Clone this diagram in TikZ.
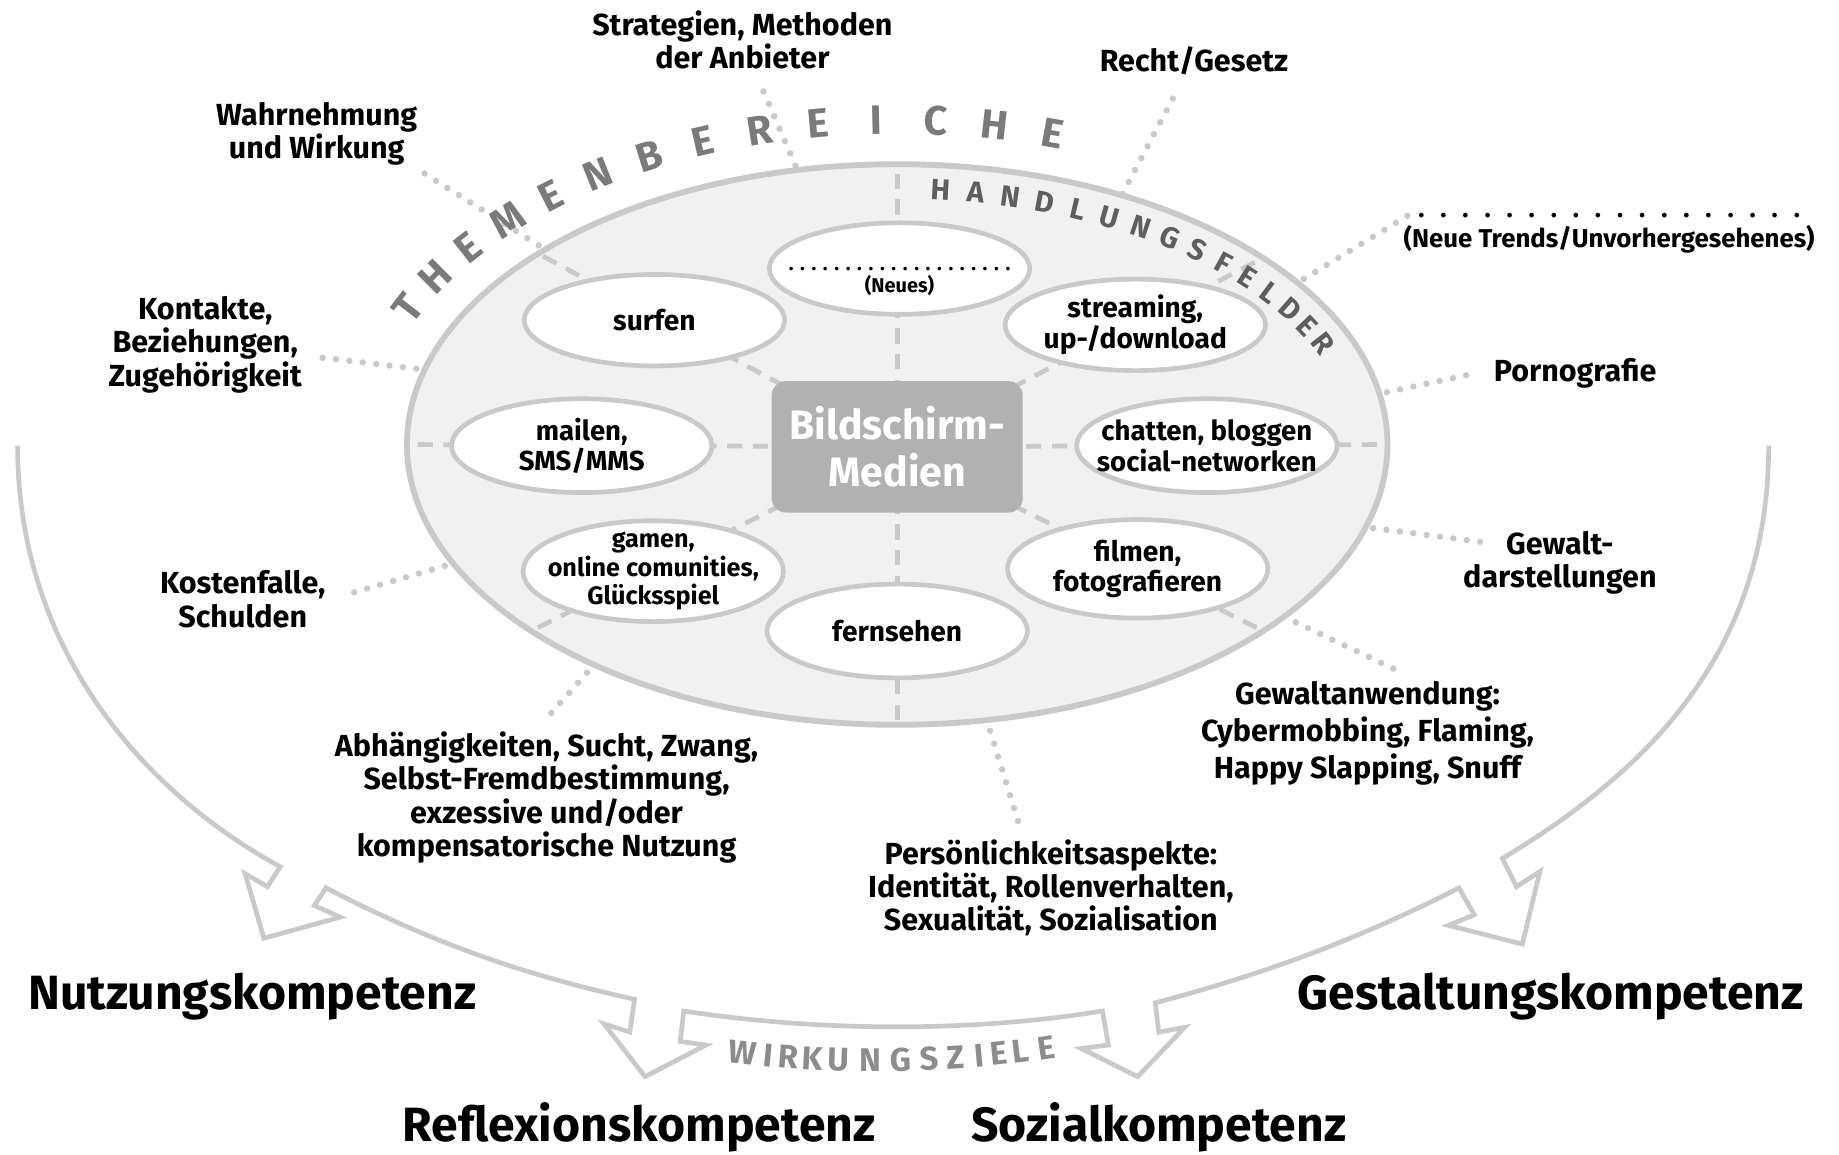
\documentclass[tikz,border=0pt]{standalone}
\usepackage{fontspec}
\setmainfont{Fira Sans}
\usepackage{tikz}
\usetikzlibrary{shapes.geometric}

\definecolor{rimgray}{HTML}{C9C9CA}
\definecolor{ringfill}{HTML}{F1F1F1}
\definecolor{boxgray}{HTML}{B1B1B2}
\definecolor{themegray}{HTML}{7A7A7A}
\definecolor{fieldgray}{HTML}{5E5E5E}
\definecolor{goalgray}{HTML}{8C8C8C}

\begin{document}
\begin{tikzpicture}[x = 1pt, y = -1pt,
		topic/.style = {align = center, inner sep = 0pt, font = \fontsize{26}{28.5}\selectfont\bfseries},
		goal/.style = {anchor = base, inner sep = 0pt, font = \fontsize{41}{44}\selectfont\bfseries},
		field/.style = {ellipse, draw = rimgray, fill = white, line width = 4pt, minimum width = 222pt, minimum height = 78pt, inner sep = 0pt},
		fieldtext/.style = {align = center, inner sep = 0pt, font = \fontsize{24}{26}\selectfont\bfseries},
		spoke/.style = {draw = rimgray, line width = 4pt, dash pattern = on 13pt off 9pt},
		dotline/.style = {draw = rimgray, line width = 5.5pt, line cap = round, dash pattern = on 0pt off 11.5pt},
		band/.style = {draw = rimgray, line width = 4pt, line join = miter},
		themeletter/.style = {inner sep = 0pt, text = themegray, font = \fontsize{35}{35}\selectfont\bfseries},
		fieldletter/.style = {inner sep = 0pt, text = fieldgray, font = \fontsize{25}{25}\selectfont\bfseries},
		goalletter/.style = {inner sep = 0pt, text = goalgray, font = \fontsize{28}{28}\selectfont\bfseries}]
			\def\cx{765};
			\def\cy{379};

			\useasboundingbox (0,0) rectangle (1568,984);

			\begin{scope}
				\draw [band] (15,380) .. controls (15,560) and (130,680) .. (239,739)
					-- (228,756) -- (209,745) -- (225,800) -- (290,782) -- (268,772) -- (278,757)
					.. controls (370,805) and (450,832) .. (541,852)
					-- (537,880) -- (515,873) -- (550,918) -- (602,891) -- (580,888) -- (583,862)
					.. controls (700,880) and (830,880) .. (940,862)
					-- (945,891) -- (922,894) -- (970,918) -- (1010,876) -- (988,880) -- (985,855)
					.. controls (1080,830) and (1160,800) .. (1244,757)
					-- (1257,780) -- (1235,789) -- (1298,805) -- (1313,743) -- (1293,756) -- (1281,732)
					.. controls (1400,660) and (1508,560) .. (1508,380);
			\end{scope}

			\begin{scope}
				\node [ellipse, draw = rimgray, fill = ringfill, line width = 5pt, minimum width = 836pt, minimum height = 478pt, inner sep = 0pt, outer sep = 0pt] (rim) at (\cx,\cy) {};
				\coordinate (hub) at (\cx,381);
				\foreach \a in {0, 27.1, 90, 152.4, 180, 207, 270, 333.1}
					\draw [spoke] (hub) -- (rim.\a);
			\end{scope}

			\begin{scope}
				\coordinate (strategien-end) at (651,78);
				\coordinate (recht-end) at (1000,84);
				\coordinate (wahrnehmung-end) at (362,148);
				\coordinate (kontakte-end) at (275,305);
				\coordinate (kosten-end) at (302,505);
				\coordinate (abhaengig-end) at (470,608);
				\coordinate (person-end) at (868,700);
				\coordinate (gewalt-end) at (1188,570);
				\coordinate (darstellung-end) at (1262,462);
				\coordinate (porno-end) at (1250,320);
				\coordinate (trends-end) at (1200,184);
				\foreach \p/\a in {strategien-end/110.9, recht-end/48.8, wahrnehmung-end/151.7, kontakte-end/171.9, kosten-end/195.4, abhaengig-end/216.3, person-end/288, gewalt-end/336.6, darstellung-end/350.5, porno-end/6.8, trends-end/22}
					\draw [dotline] (\p) -- (rim.\a);
			\end{scope}

			\begin{scope}
				\foreach \n/\x/\y/\h in {neues/767/229/78, surfen/558/273/78, streaming/968/277/78, mailen/496/380/80, chatten/1029/380/80, gamen/557/487/86, filmen/970/485/84, fernsehen/765/538/80}
					\node [field, minimum height = \h pt] (\n) at (\x,\y) {};

				\node [fieldtext, font = \fontsize{17}{19}\selectfont\bfseries] (neues-text) at (767,240) {\makebox[195pt]{\xleaders\hbox to 9.3pt{\hss.\hss}\hfill}\\(Neues)};
				\node [fieldtext] (surfen-text) at (surfen) {surfen};
				\node [fieldtext] (streaming-text) at (streaming) {streaming,\\up-/download};
				\node [fieldtext, font = \fontsize{23.5}{26}\selectfont\bfseries] (mailen-text) at (mailen) {mailen,\\SMS/MMS};
				\node [fieldtext, font = \fontsize{23.5}{26}\selectfont\bfseries] (chatten-text) at (chatten) {chatten, bloggen\\social-networken};
				\node [fieldtext, font = \fontsize{21.5}{24.5}\selectfont\bfseries] (gamen-text) at (gamen) {gamen,\\online comunities,\\Glücksspiel};
				\node [fieldtext] (filmen-text) at (filmen) {filmen,\\fotografieren};
				\node [fieldtext] (fernsehen-text) at (fernsehen) {fernsehen};

				\node [rectangle, rounded corners = 12pt, fill = boxgray, minimum width = 214pt, minimum height = 112pt, inner sep = 0pt, align = center, text = white, font = \fontsize{35}{40}\selectfont\bfseries] (media) at (\cx,381) {Bildschirm-\\Medien};
			\end{scope}

			\begin{scope}
				\foreach \ch [count = \idx from 0] in {T,H,E,M,E,N,B,E,R,E,I,C,H,E} {
					\pgfmathsetmacro{\ang}{155.2 - 6.3*\idx}
					\pgfmathsetmacro{\rot}{atan2(-277*cos(\ang), 460*sin(\ang))}
					\node [themeletter, rotate = \rot] (theme-\idx) at ({\cx + 460*cos(\ang)}, {\cy - 277*sin(\ang)}) {\ch};
				}
				\foreach \ch [count = \idx from 0] in {H,A,N,D,L,U,N,G,S,F,E,L,D,E,R} {
					\pgfmathsetmacro{\ang}{84.6 - 4.38*\idx}
					\pgfmathsetmacro{\rot}{atan2(-218*cos(\ang), 395*sin(\ang))}
					\node [fieldletter, rotate = \rot] (field-\idx) at ({\cx + 395*cos(\ang)}, {\cy - 218*sin(\ang)}) {\ch};
				}
				\foreach \ch/\x [count = \idx] in {W/633, I/655, R/672, K/693, U/715, N/742, G/768, S/792, Z/815, I/835, E/852, L/870, E/892} {
					\pgfmathsetmacro{\rot}{atan((\x - 745)/1000)}
					\pgfmathsetmacro{\yy}{904 - 5*((\x - 745)/100)*((\x - 745)/100)}
					\node [goalletter, rotate = \rot] (goal-\idx) at (\x, \yy) {\ch};
				}
			\end{scope}

			\begin{scope}
				\node [topic] (strategien) at (633,34) {Strategien, Methoden\\der Anbieter};
				\node [topic] (recht) at (1018,52) {Recht/Gesetz};
				\node [topic] (wahrnehmung) at (270,114) {Wahrnehmung\\und Wirkung};
				\node [topic] (kontakte) at (175,294) {Kontakte,\\Beziehungen,\\Zugehörigkeit};
				\node [topic] (kosten) at (207,511) {Kostenfalle,\\Schulden};
				\node [topic] (abhaengig) at (466,680) {Abhängigkeiten, Sucht, Zwang,\\Selbst-Fremdbestimmung,\\exzessive und/oder\\kompensatorische Nutzung};
				\node [topic] (person) at (896,757) {Persönlichkeitsaspekte:\\Identität, Rollenverhalten,\\Sexualität, Sozialisation};
				\node [topic] (gewalt) at (1166,625) {Gewaltanwendung:\\[3pt]Cybermobbing, Flaming,\\[3pt]Happy Slapping, Snuff};
				\node [topic] (darstellung) at (1330,480) {Gewalt-\\darstellungen};
				\node [topic] (porno) at (1343,318) {Pornografie};
				\node [topic, font = \fontsize{22}{26}\selectfont\bfseries] (trends) at (1372,199) {\makebox[340pt]{\xleaders\hbox to 17.9pt{\hss.\hss}\hfill}\\(Neue Trends/Unvorhergesehenes)};
			\end{scope}

			\begin{scope}
				\node [goal] (nutzung) at (215,861) {Nutzungskompetenz};
				\node [goal] (gestaltung) at (1322,861) {Gestaltungskompetenz};
				\node [goal] (reflexion) at (545,973) {Reflexionskompetenz};
				\node [goal] (sozial) at (988,973) {Sozialkompetenz};
			\end{scope}
		\end{tikzpicture}
\end{document}
